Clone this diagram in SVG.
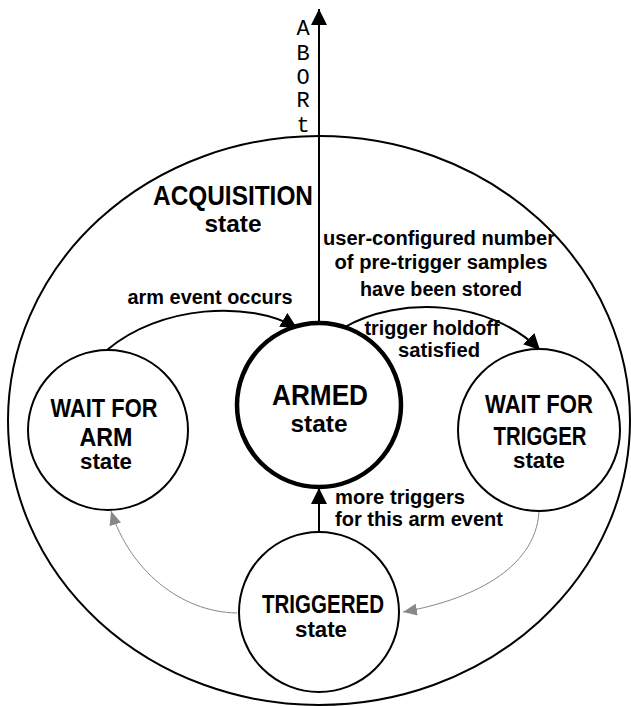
<svg xmlns="http://www.w3.org/2000/svg" width="631" height="706" viewBox="0 0 631 706">
<style>
.t{font-family:"Liberation Sans",Arial,sans-serif;font-weight:bold;fill:#000;text-anchor:middle}
.l{font-size:20px}
.m{font-family:"Liberation Mono","Courier New",monospace;font-size:22px;fill:#000;text-anchor:middle}
.node{fill:#fff;stroke:#000;stroke-width:2}
.thick{stroke-width:4.5}
.c{fill:none;stroke:#000;stroke-width:2}
.g{fill:none;stroke:#888;stroke-width:1}
</style>
<defs>
<marker id="ab" markerWidth="16" markerHeight="18" refX="16" refY="8" orient="auto" markerUnits="userSpaceOnUse"><path d="M0,0 L16,8 L0,16 Z" fill="#000"/></marker>
<marker id="ag" markerWidth="14" markerHeight="14" refX="14" refY="6" orient="auto" markerUnits="userSpaceOnUse"><path d="M0,0 L14,6 L0,12 Z" fill="#888"/></marker>
</defs>
<g id="acquisition">
<ellipse cx="319" cy="420.5" rx="311" ry="284.5" fill="none" stroke="#000" stroke-width="2"/>
<text class="t" x="233" y="205" font-size="28" textLength="160" lengthAdjust="spacingAndGlyphs">ACQUISITION</text>
<text class="t" x="233" y="232" font-size="24" textLength="57" lengthAdjust="spacingAndGlyphs">state</text>
</g>
<g id="connectors">
<path class="c" d="M319,322 L319,9" marker-end="url(#ab)"/>
<path class="c" d="M107,350 C160,305 250,300 297,328" marker-end="url(#ab)"/>
<path class="c" d="M343,328 C400,295 490,300 540,350" marker-end="url(#ab)"/>
<path class="c" d="M319,532 L319,488" marker-end="url(#ab)"/>
<path class="g" d="M539,512 C535,570 470,600 403,612" marker-end="url(#ag)"/>
<path class="g" d="M237,613 C180,612 130,570 111,511" marker-end="url(#ag)"/>
</g>
<g id="abort-label">
<text class="m" x="303" y="35">A</text>
<text class="m" x="303" y="60">B</text>
<text class="m" x="303" y="84">O</text>
<text class="m" x="303" y="107">R</text>
<text class="m" x="303" y="132">t</text>
</g>
<g id="labels">
<text class="t l" x="439" y="245" textLength="232" lengthAdjust="spacingAndGlyphs">user-configured number</text>
<text class="t l" x="441" y="269" textLength="213" lengthAdjust="spacingAndGlyphs">of pre-trigger samples</text>
<text class="t l" x="441" y="296" textLength="162" lengthAdjust="spacingAndGlyphs">have been stored</text>
<text class="t l" x="210" y="304" textLength="165" lengthAdjust="spacingAndGlyphs">arm event occurs</text>
<text class="t l" x="432" y="335" textLength="135" lengthAdjust="spacingAndGlyphs">trigger holdoff</text>
<text class="t l" x="439" y="357" textLength="82" lengthAdjust="spacingAndGlyphs">satisfied</text>
<text class="t l" x="335" y="504" style="text-anchor:start" textLength="130" lengthAdjust="spacingAndGlyphs">more triggers</text>
<text class="t l" x="335" y="526" style="text-anchor:start" textLength="168" lengthAdjust="spacingAndGlyphs">for this arm event</text>
</g>
<g id="armed">
<circle class="node thick" cx="319" cy="405" r="82"/>
<text class="t" x="320" y="405" font-size="30" textLength="96" lengthAdjust="spacingAndGlyphs">ARMED</text>
<text class="t" x="319" y="432" font-size="24" textLength="57" lengthAdjust="spacingAndGlyphs">state</text>
</g>
<g id="wait-for-arm">
<circle class="node" cx="108" cy="430" r="80"/>
<text class="t" x="104" y="417" font-size="25" textLength="107" lengthAdjust="spacingAndGlyphs">WAIT FOR</text>
<text class="t" x="106" y="446" font-size="25" textLength="53" lengthAdjust="spacingAndGlyphs">ARM</text>
<text class="t" x="106" y="469" font-size="22" textLength="52" lengthAdjust="spacingAndGlyphs">state</text>
</g>
<g id="wait-for-trigger">
<circle class="node" cx="539" cy="430" r="81"/>
<text class="t" x="539" y="413" font-size="25" textLength="108" lengthAdjust="spacingAndGlyphs">WAIT FOR</text>
<text class="t" x="540" y="445" font-size="25" textLength="93" lengthAdjust="spacingAndGlyphs">TRIGGER</text>
<text class="t" x="539" y="468" font-size="22" textLength="52" lengthAdjust="spacingAndGlyphs">state</text>
</g>
<g id="triggered">
<circle class="node" cx="319" cy="612" r="80"/>
<text class="t" x="323" y="613" font-size="26" textLength="122" lengthAdjust="spacingAndGlyphs">TRIGGERED</text>
<text class="t" x="321" y="637" font-size="22" textLength="52" lengthAdjust="spacingAndGlyphs">state</text>
</g>
</svg>
